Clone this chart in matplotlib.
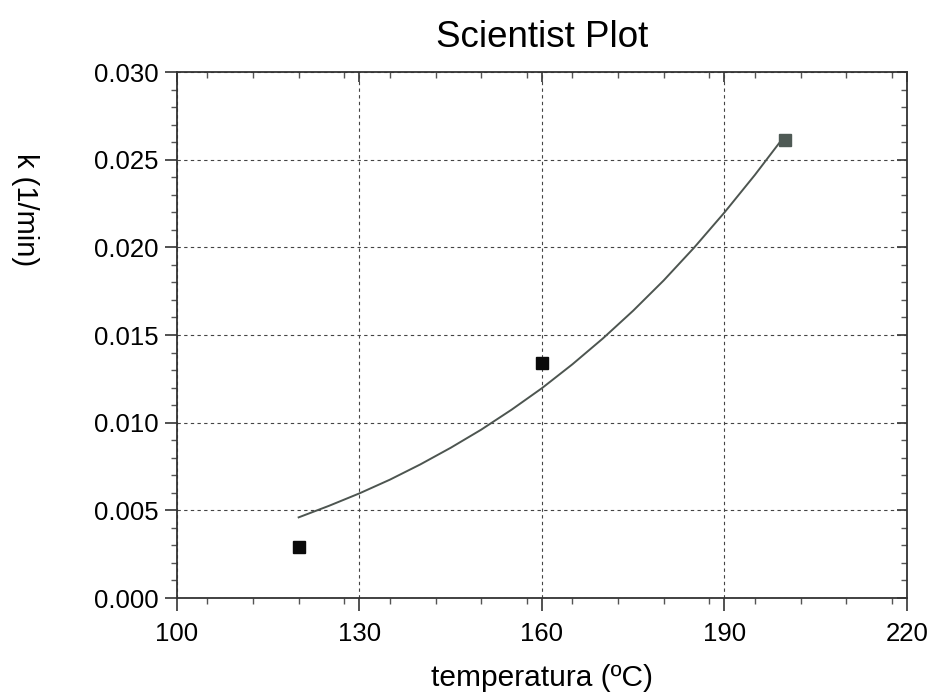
import matplotlib
matplotlib.use("Agg")
import matplotlib.pyplot as plt
from matplotlib.ticker import MultipleLocator

plt.rcParams['font.family'] = ['Liberation Sans', 'DejaVu Sans']

# measured points
temp = [120, 160, 200]
k = [0.0029, 0.0134, 0.0261]
point_colors = ['#0a0a0a', '#0a0a0a', '#4f5a55']

# fitted curve
fit_temp = [120, 125, 130, 135, 140, 145, 150, 155, 160, 165, 170,
            175, 180, 185, 190, 195, 199]
fit_k = [0.00460, 0.00526, 0.00597, 0.00675, 0.00762, 0.00857, 0.00960,
         0.01074, 0.01197, 0.01333, 0.01480, 0.01639, 0.01811, 0.01998,
         0.02199, 0.02413, 0.02595]

xticks = [100, 130, 160, 190, 220]
yticks = [0.000, 0.005, 0.010, 0.015, 0.020, 0.025, 0.030]

fig = plt.figure(figsize=(9.33, 6.97), dpi=100)
ax = fig.add_axes([0.1897, 0.142, 0.7824, 0.7547])

ax.plot(fit_temp, fit_k, color='#4d5550', lw=1.4, zorder=3)
for t, v, c in zip(temp, k, point_colors):
    ax.plot(t, v, marker='s', ms=8.5, color=c, ls='none', zorder=4)

ax.set_xlim(100, 220)
ax.set_ylim(0, 0.030)
ax.set_xticks(xticks)
ax.set_yticks(yticks)
ax.set_yticklabels(['%.3f' % y for y in yticks])
ax.xaxis.set_minor_locator(MultipleLocator(7.5))
ax.yaxis.set_minor_locator(MultipleLocator(0.001))

ax.grid(True, which='major', color='#444444', ls=(0, (3, 3)), lw=0.8)

for s in ax.spines.values():
    s.set_color('#333333')
    s.set_linewidth(1.3)

ax.tick_params(which='major', direction='out', length=9, width=1.2,
               color='#333333', labelsize=18.5, pad=4)
ax.tick_params(axis='x', which='major', pad=8)
ax.tick_params(which='minor', direction='out', length=4.5, width=1.0,
               color='#555555')

# inward ticks on top and right
top = ax.secondary_xaxis('top')
top.set_xticks(xticks)
top.xaxis.set_minor_locator(MultipleLocator(7.5))
top.tick_params(which='major', direction='in', length=7, width=1.2,
                color='#333333', labeltop=False)
top.tick_params(which='minor', direction='in', length=4.5, width=1.0,
                color='#555555')
top.spines['top'].set_visible(False)

right = ax.secondary_yaxis('right')
right.set_yticks(yticks)
right.yaxis.set_minor_locator(MultipleLocator(0.001))
right.tick_params(which='major', direction='in', length=7, width=1.2,
                  color='#333333', labelright=False)
right.tick_params(which='minor', direction='in', length=4.5, width=1.0,
                  color='#555555')
right.spines['right'].set_visible(False)

ax.set_title('Scientist Plot', fontsize=26.5, pad=18)
fig.text(542 / 933, 1 - 678 / 697, 'temperatura (ºC)', fontsize=21.5,
         ha='center', va='center')
fig.text(25 / 933, 1 - 210 / 697, 'k (1/min)', fontsize=21, rotation=270,
         ha='center', va='center')

fig.savefig('out.png', dpi=100, facecolor='white')
